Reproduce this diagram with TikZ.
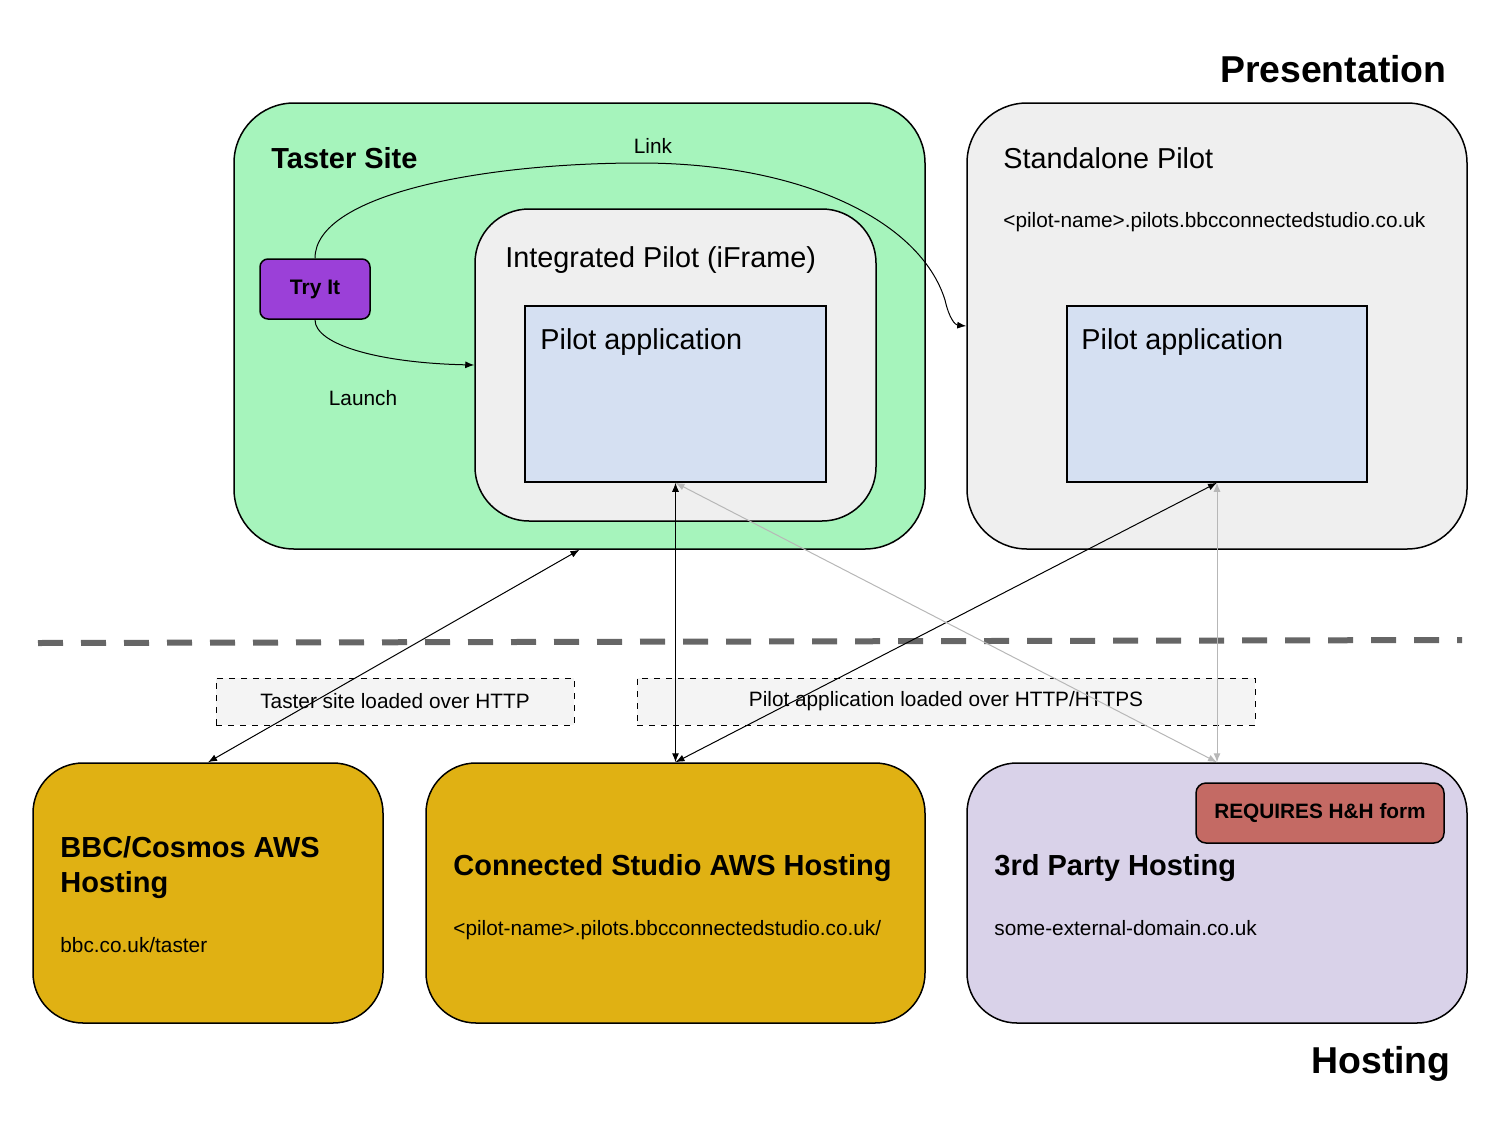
\documentclass[tikz,border=0pt]{standalone}
\usepackage{fontspec}
\setmainfont{Liberation Sans}
\usepackage{xcolor}
\usetikzlibrary{arrows,arrows.meta}

\definecolor{tastergreen}{HTML}{A6F4BC}
\definecolor{pilotgrey}{HTML}{EFEFEF}
\definecolor{appblue}{HTML}{D5E0F2}
\definecolor{trypurple}{HTML}{9B40D8}
\definecolor{awsgold}{HTML}{E0B113}
\definecolor{thirdlilac}{HTML}{D9D2E9}
\definecolor{reqred}{HTML}{C46A64}
\definecolor{notegrey}{HTML}{F4F4F4}
\definecolor{sepgrey}{HTML}{666666}
\definecolor{lightarrow}{HTML}{B7B7B7}

\begin{document}
\begin{tikzpicture}[x=0.5pt,y=-0.5pt,every node/.style={inner sep=0pt},
	>={Latex[length=4.5pt,width=3.5pt]},
	box/.style={draw=black,line width=0.75pt,rounded corners=25pt},
	title/.style={anchor=base west,font=\fontsize{14.5}{17.5}\selectfont\bfseries},
	head/.style={anchor=base west,font=\fontsize{14.4}{17.5}\selectfont},
	small/.style={font=\fontsize{10.4}{12.5}\selectfont},
	note/.style={draw=black,dashed,line width=0.5pt,fill=notegrey,small},
	link/.style={line width=0.5pt,<->},
	faint/.style={line width=0.5pt,<->,draw=lightarrow,color=lightarrow}]
				\useasboundingbox (0,0) rectangle (1500,1125);
				%% presentation layer
				\node[anchor=base east,font=\fontsize{18.7}{22}\selectfont\bfseries] (pres) at (1447,82){Presentation};
				\node[box,fill=tastergreen,rounded corners=30pt,minimum width=345.5pt,minimum height=223pt] (taster) at (579.5,326){};
				\node[box,fill=pilotgrey,rounded corners=30pt,minimum width=250pt,minimum height=223pt] (stand) at (1217,326){};
				\node[box,fill=pilotgrey,rounded corners=27pt,minimum width=200.5pt,minimum height=156pt] (integ) at (675.5,365){};
				\node[draw=black,line width=0.75pt,fill=appblue,minimum width=150.5pt,minimum height=88pt] (app1) at (675.5,394){};
				\node[draw=black,line width=0.75pt,fill=appblue,minimum width=150pt,minimum height=88pt] (app2) at (1217,394){};
				\node[box,fill=trypurple,rounded corners=4pt,minimum width=55pt,minimum height=30pt,font=\fontsize{10.5}{12}\selectfont\bfseries] (try) at (315,289){Try It};
				\node[title] (tastertitle) at (271,168){Taster Site};
				\node[head] (integtitle) at (505,267){Integrated Pilot (iFrame)};
				\node[head] (app1title) at (540,349){Pilot application};
				\node[head] (app2title) at (1081,349){Pilot application};
				\node[head] (standtitle) at (1003,168){Standalone Pilot};
				\node[anchor=base west,small] (standurl) at (1003,227){<pilot-name>.pilots.bbcconnectedstudio.co.uk};
				\node[small] (linklabel) at (653,146){Link};
				\node[small] (launchlabel) at (363,398){Launch};
				%% curved links from the button
				\draw[line width=0.5pt,->] (try.south) .. controls (315,345) and (380,363) .. (integ.west);
				\draw[line width=0.5pt,->] (try.north) .. controls (315,195) and (480,163) .. (640,163) .. controls (800,163) and (920,220) .. (945,300) .. controls (949,318) and (955,325) .. (stand.west);
				%% separator between the layers
				\coordinate (sepl) at (38,643);\coordinate (sepr) at (1462,640);
				\draw[sepgrey,line width=3pt,dash pattern=on 12.5pt off 9pt] (sepl) -- (sepr);
				%% hosting layer
				\node[box,fill=awsgold,minimum width=175pt,minimum height=130pt] (bbc) at (208,893){};
				\node[box,fill=awsgold,minimum width=249.5pt,minimum height=130pt] (cs) at (675.5,893){};
				\node[box,fill=thirdlilac,minimum width=250pt,minimum height=130pt] (third) at (1217,893){};
				\node[box,fill=reqred,rounded corners=5pt,minimum width=124pt,minimum height=30pt,font=\fontsize{10.4}{12}\selectfont\bfseries] (req) at (1320,813){REQUIRES H\&H form};
				\node[title] (bbctitle) at (60,857){BBC/Cosmos AWS};
				\node[title] (bbctitleb) at (60,892){Hosting};
				\node[anchor=base west,small] (bbcurl) at (60,952){bbc.co.uk/taster};
				\node[title] (cstitle) at (453,875){Connected Studio AWS Hosting};
				\node[anchor=base west,small] (csurl) at (453,935){<pilot-name>.pilots.bbcconnectedstudio.co.uk/};
				\node[title] (thirdtitle) at (994,875){3rd Party Hosting};
				\node[anchor=base west,small] (thirdurl) at (994,935){some-external-domain.co.uk};
				\node[anchor=base east,font=\fontsize{18.7}{22}\selectfont\bfseries] (host) at (1451,1073){Hosting};
				%% notes first, the loading arrows run over them
				\node[note,minimum width=179pt,minimum height=23.5pt] (note1) at (395,701.5){Taster site loaded over HTTP};
				\node[note,minimum width=309pt,minimum height=23.5pt] (note2) at (946,701.5){Pilot application loaded over HTTP/HTTPS};
				\draw[link] (bbc.north) -- (taster.south);
				\draw[link] (cs.north) -- (app1.south);
				\draw[link] (cs.north) -- (app2.south);
				\draw[faint] (third.north) -- (app1.south);
				\draw[faint] (third.north) -- (app2.south);
\end{tikzpicture}
\end{document}
